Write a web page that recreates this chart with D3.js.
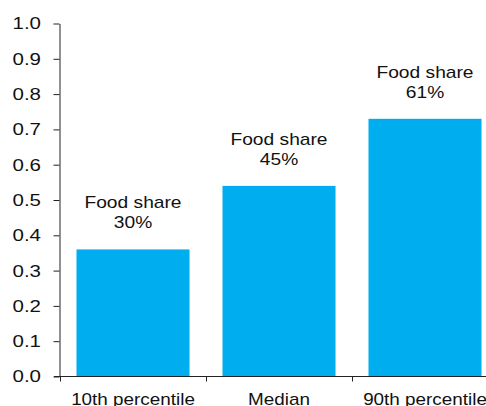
<!DOCTYPE html>
<html><head><meta charset="utf-8">
<script src="https://cdn.jsdelivr.net/npm/d3@7"></script>
<style>body{margin:0;background:#fff}svg{display:block}</style>
</head><body>
<svg id="c" width="486" height="406"></svg>
<script>
const categories = ["10th percentile", "Median", "90th percentile"];
const values = [0.36, 0.54, 0.73];
const foodShares = ["30%", "45%", "61%"];
const yTicks = [0, 0.1, 0.2, 0.3, 0.4, 0.5, 0.6, 0.7, 0.8, 0.9, 1.0];

const svg = d3.select("#c");
const font = "'Liberation Sans', Arial, sans-serif";
const x = d3.scaleBand().domain(categories).range([60, 498]).paddingInner(0.226).paddingOuter(0.113);
const y = d3.scaleLinear().domain([0, 1]).range([376.5, 23.5]);

function stretchedText(sel, px, py, txt, size, sx) {
  return sel.append("text")
    .attr("transform", `translate(${px},${py}) scale(${sx},1)`)
    .attr("text-anchor", "middle")
    .attr("font-family", font).attr("font-size", size).attr("fill", "#111")
    .text(txt);
}

// bars
svg.selectAll("rect.bar").data(values).enter().append("rect")
  .attr("class", "bar")
  .attr("x", (d, i) => x(categories[i]))
  .attr("width", x.bandwidth())
  .attr("y", d => y(d))
  .attr("height", d => y(0) - y(d))
  .attr("fill", "#00AEEF");

// y axis
const TSX = 1.28;
const ya = svg.append("g").attr("transform", "translate(59.5,0)")
  .call(d3.axisLeft(y).tickValues(yTicks).tickFormat(d3.format(".1f")).tickSize(6).tickSizeOuter(0));
ya.select(".domain").attr("stroke", "#222");
ya.selectAll(".tick line").attr("stroke", "#222");
ya.selectAll(".tick text")
  .attr("font-family", font).attr("font-size", 16).attr("fill", "#111")
  .attr("x", -18.5 / TSX).attr("dy", "0.34em")
  .attr("transform", `scale(${TSX},1)`);

// x axis
const xa = svg.append("g").attr("transform", "translate(0,376.5)");
xa.append("line").attr("x1", 54).attr("x2", 486).attr("stroke", "#222");
const bandStep = x.step();
const tickXs = categories.map(c => Math.round(x(c) - x.paddingInner() * bandStep / 2) + 0.5);
xa.selectAll("line.t").data(tickXs).enter().append("line")
  .attr("x1", d => d).attr("x2", d => d).attr("y1", 0).attr("y2", 5).attr("stroke", "#222");
categories.forEach(c => stretchedText(xa, x(c) + x.bandwidth() / 2, 28.5, c, 16, 1.18));

// annotations
values.forEach((v, i) => {
  const cx = x(categories[i]) + x.bandwidth() / 2;
  stretchedText(svg, cx, y(v) - 41, "Food share", 16, 1.2);
  stretchedText(svg, cx, y(v) - 21, foodShares[i], 16, 1.2);
});
</script>
</body></html>
